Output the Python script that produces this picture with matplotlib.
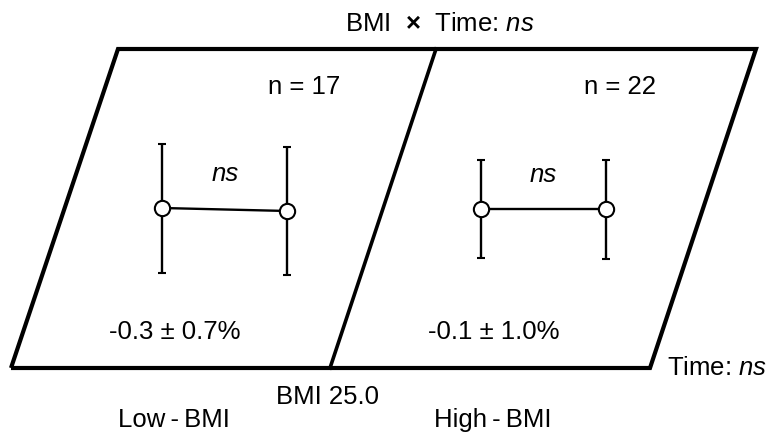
import matplotlib
matplotlib.use("Agg")
import matplotlib.pyplot as plt

plt.rcParams['font.family'] = ['Liberation Sans', 'DejaVu Sans']
plt.rcParams['mathtext.fontset'] = 'custom'
plt.rcParams['mathtext.rm'] = 'Liberation Sans'
plt.rcParams['mathtext.it'] = 'Liberation Sans:italic'
plt.rcParams['mathtext.bf'] = 'Liberation Sans:bold'

# data (schematic units, time points pre/post)
groups = ['Low-BMI', 'High-BMI']
n_sizes = [17, 22]
times = [0, 1]
low_means = [0.0, -0.3]
low_err = [6.45, 6.4]
high_means = [0.0, 0.0]
high_err = [4.9, 4.95]
changes = ['-0.3 \u00b1 0.7%', '-0.1 \u00b1 1.0%']

W, H = 772, 434
fig = plt.figure(figsize=(W / 100, H / 100), dpi=100)
ax = fig.add_axes([0, 0, 1, 1])
ax.set_xlim(0, W)
ax.set_ylim(H, 0)
ax.axis('off')

# parallelogram frame
top, bot = 49, 368
tl, tm, tr = 118, 436, 756
bl, bm, br = 11, 330, 650
ax.plot([bl, tl, tr, br, bl], [bot, top, top, bot, bot], color='black', lw=3,
        solid_joinstyle='miter', solid_capstyle='butt')
ax.plot([bm, tm], [bot, top], color='black', lw=2.6)

fs = 18.5
ax.text(440, 24, 'BMI  $\\mathbf{\u00d7}$  Time: $\\mathit{ns}$', ha='center', va='center', fontsize=fs)
ax.text(667, 368, 'Time: $\\mathit{ns}$', ha='left', va='center', fontsize=fs)
ax.text(328, 397, 'BMI 25.0', ha='center', va='center', fontsize=fs)
ax.text(174, 420, 'Low\u2009-\u2009BMI', ha='center', va='center', fontsize=fs)
ax.text(493, 420, 'High\u2009-\u2009BMI', ha='center', va='center', fontsize=fs)
ax.text(304, 87, 'n = %d' % n_sizes[0], ha='center', va='center', fontsize=fs)
ax.text(620, 87, 'n = %d' % n_sizes[1], ha='center', va='center', fontsize=fs)
ax.text(175, 332, changes[0], ha='center', va='center', fontsize=fs)
ax.text(494, 332, changes[1], ha='center', va='center', fontsize=fs)


def panel(xc, y0, means, err):
    # invisible axes: 125 px per time step, 10 px per y unit
    left, right = xc - 125, xc + 125
    ytop, ybot = 100, 320
    pax = fig.add_axes([left / W, (H - ybot) / H, (right - left) / W, (ybot - ytop) / H])
    pax.set_xlim(-0.5, 1.5)
    pax.set_ylim(-(ybot - y0) / 10, (y0 - ytop) / 10)
    pax.axis('off')
    pax.errorbar(times, means, yerr=err, fmt='-o', color='black', lw=1.7,
                 elinewidth=1.7, capsize=3, capthick=1.7, ms=11,
                 mfc='white', mec='black', mew=1.5)
    pax.text(0.5, 3.4, 'ns', style='italic', ha='center', va='center', fontsize=fs)


panel(225, 208, low_means, low_err)
panel(543.5, 209, high_means, high_err)

fig.savefig('out.png', dpi=100)
